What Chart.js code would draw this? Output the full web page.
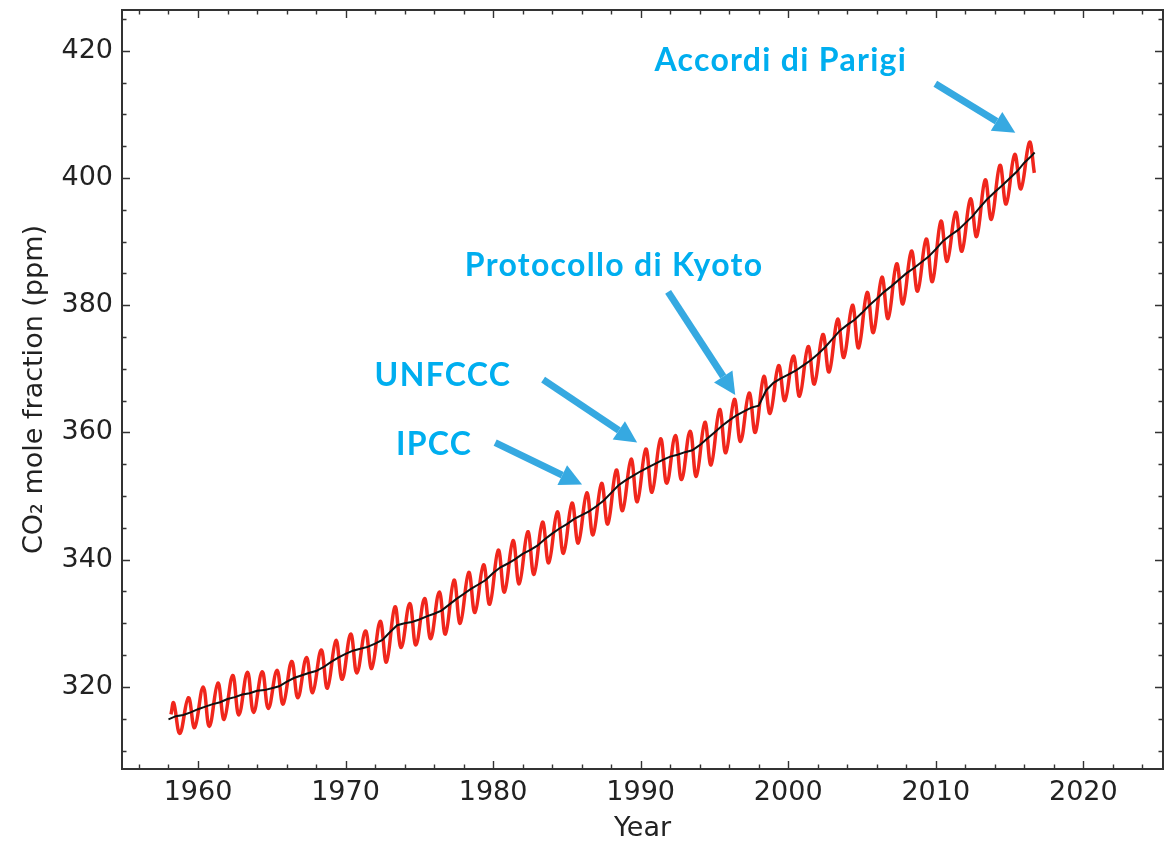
<!DOCTYPE html>
<html>
<head>
<meta charset="utf-8">
<script src="https://cdn.jsdelivr.net/npm/chart.js@4.4.0/dist/chart.umd.min.js"></script>
<style>
  html, body { margin: 0; padding: 0; background: #fff; }
  #wrap { width: 1168px; height: 842px; }
</style>
</head>
<body>
<div id="wrap"><canvas id="chart" width="1168" height="842"></canvas></div>
<script>
// anni con massimo (maggio) e minimo (ottobre) stagionale
const seasonYears = [1958,1959,1960,1961,1962,1963,1964,1965,1966,1967,1968,1969,1970,1971,1972,1973,1974,1975,1976,1977,1978,1979,1980,1981,1982,1983,1984,1985,1986,1987,1988,1989,1990,1991,1992,1993,1994,1995,1996,1997,1998,1999,2000,2001,2002,2003,2004,2005,2006,2007,2008,2009,2010,2011,2012,2013,2014,2015,2016];
const peaks = [317.5,318.3,320.0,320.6,321.8,322.3,322.4,322.6,324.0,324.6,325.8,327.3,328.3,328.8,330.3,332.6,333.1,333.9,334.9,336.8,338.0,339.2,341.5,343.0,344.4,345.9,347.5,348.9,350.5,352.0,354.1,355.8,357.4,359.0,359.5,360.2,361.6,363.6,365.2,366.2,368.8,370.5,372.0,373.5,375.4,377.8,380.0,382.0,384.4,386.5,388.5,390.4,393.2,394.6,396.7,399.7,402.0,403.7,405.6];
const troughs = [312.7,313.6,313.8,314.9,315.6,316.0,316.6,317.3,318.3,319.1,319.8,321.2,322.2,322.9,323.9,326.2,326.6,327.6,328.3,330.0,331.7,333.0,334.9,336.2,337.7,339.5,341.0,342.6,343.9,345.6,347.7,349.1,350.6,352.0,352.6,353.1,354.9,356.8,358.6,360.0,363.0,365.0,365.7,367.6,369.5,371.8,373.3,375.7,377.9,380.2,382.2,383.7,386.9,388.5,390.8,393.5,395.9,398.3,400.8];
const firstValue = 315.7; // marzo 1958

// media destagionalizzata, ogni mezzo anno da 1958.0
const trendStart = 1958.0;
const trend = [314.9,315.4,315.6,316.0,316.5,316.9,317.3,317.6,318.1,318.4,318.8,319.0,319.4,319.5,319.8,320.1,320.8,321.4,321.8,322.2,322.5,323.1,323.9,324.6,325.2,325.7,326.0,326.3,326.8,327.4,328.6,329.7,330.0,330.2,330.6,331.1,331.5,332.0,332.9,333.8,334.6,335.4,336.1,336.8,337.9,338.8,339.4,340.1,340.9,341.5,342.2,343.2,344.1,344.9,345.6,346.4,347.0,347.6,348.4,349.3,350.5,351.7,352.5,353.2,353.9,354.5,355.1,355.7,356.2,356.5,356.9,357.2,358.0,359.0,360.0,361.0,361.9,362.7,363.3,363.9,364.2,366.6,367.8,368.5,369.1,369.7,370.5,371.3,372.3,373.4,374.7,376.0,376.9,377.7,378.8,380.0,381.0,382.1,383.0,384.0,385.0,385.8,386.7,387.6,388.8,390.1,391.0,391.8,392.9,394.0,395.4,396.7,397.8,398.8,399.9,401.0,402.4,403.5,404.0];

const xTickLabels = [1960, 1970, 1980, 1990, 2000, 2010, 2020];
const yTickLabels = [320, 340, 360, 380, 400, 420];

// annotazioni: testo, posizione del testo, coda e punta della freccia (in anni / ppm)
const notes = [
  { text: 'Accordi di Parigi',   at: [1999.5, 418.4], from: [2009.97, 414.8], to: [2015.39, 407.1] },
  { text: 'Protocollo di Kyoto', at: [1988.2, 386.2], from: [1991.86, 382.1], to: [1996.41, 365.9] },
  { text: 'UNFCCC',              at: [1976.6, 368.9], from: [1983.39, 368.3], to: [1989.76, 358.4] },
  { text: 'IPCC',                at: [1976.0, 358.1], from: [1980.14, 358.4], to: [1986.03, 351.8] }
];

// punti della curva rossa
const seasonal = [{ x: 1958.17, y: firstValue }];
seasonYears.forEach((yr, i) => {
  seasonal.push({ x: yr + 0.35, y: peaks[i] });
  const last = i === seasonYears.length - 1;
  seasonal.push({ x: yr + (last ? 0.68 : 0.77), y: troughs[i] });
});
const trendPts = trend.map((v, i) => ({
  x: i === trend.length - 1 ? 2016.7 : trendStart + i * 0.5,
  y: v
}));

const axisColor = '#333';
const labelFont = { family: 'DejaVu Sans', size: 27 };

const frameTicks = {
  id: 'frameTicks',
  afterDatasetsDraw(chart) {
    const { ctx, chartArea: a, scales: { x, y } } = chart;
    ctx.save();
    ctx.strokeStyle = axisColor;
    ctx.lineWidth = 1.4;
    ctx.beginPath();
    for (let v = 1956; v <= 2024; v += 2) {
      const px = Math.round(x.getPixelForValue(v)) + 0.5;
      const len = v % 10 === 0 ? 8 : 4.5;
      ctx.moveTo(px, a.bottom); ctx.lineTo(px, a.bottom - len);
      ctx.moveTo(px, a.top); ctx.lineTo(px, a.top + len);
    }
    for (let v = 310; v <= 425; v += 5) {
      const py = Math.round(y.getPixelForValue(v)) + 0.5;
      const len = v % 20 === 0 ? 8 : 4.5;
      ctx.moveTo(a.left, py); ctx.lineTo(a.left + len, py);
      ctx.moveTo(a.right, py); ctx.lineTo(a.right - len, py);
    }
    ctx.stroke();
    ctx.lineWidth = 2;
    ctx.strokeRect(a.left, a.top, a.right - a.left, a.bottom - a.top);
    ctx.restore();
  }
};

const annotations = {
  id: 'annotations',
  afterDraw(chart) {
    const { ctx, scales: { x, y } } = chart;
    ctx.save();
    for (const n of notes) {
      const x0 = x.getPixelForValue(n.from[0]), y0 = y.getPixelForValue(n.from[1]);
      const x1 = x.getPixelForValue(n.to[0]), y1 = y.getPixelForValue(n.to[1]);
      const ang = Math.atan2(y1 - y0, x1 - x0);
      const head = 22, half = 11;
      const bx = x1 - head * Math.cos(ang), by = y1 - head * Math.sin(ang);
      ctx.strokeStyle = '#36a9e1';
      ctx.fillStyle = '#36a9e1';
      ctx.lineWidth = 7;
      ctx.beginPath();
      ctx.moveTo(x0, y0); ctx.lineTo(bx, by);
      ctx.stroke();
      ctx.beginPath();
      ctx.moveTo(x1, y1);
      ctx.lineTo(bx + half * Math.sin(ang), by - half * Math.cos(ang));
      ctx.lineTo(bx - half * Math.sin(ang), by + half * Math.cos(ang));
      ctx.closePath();
      ctx.fill();

      ctx.fillStyle = '#00aeef';
      ctx.font = 'bold 32px Lato';
      ctx.letterSpacing = '1.3px';
      ctx.textAlign = 'center';
      ctx.textBaseline = 'middle';
      ctx.fillText(n.text, x.getPixelForValue(n.at[0]), y.getPixelForValue(n.at[1]));
    }
    ctx.restore();
  }
};

new Chart(document.getElementById('chart'), {
  type: 'line',
  data: {
    datasets: [
      {
        label: 'trend',
        data: trendPts,
        borderColor: '#111',
        borderWidth: 2,
        pointRadius: 0,
        tension: 0
      },
      {
        label: 'monthly',
        data: seasonal,
        borderColor: '#f0261c',
        borderWidth: 3.5,
        pointRadius: 0,
        tension: 0.4
      }
    ]
  },
  plugins: [frameTicks, annotations],
  options: {
    responsive: false,
    animation: false,
    devicePixelRatio: 1,
    layout: { padding: { top: 10, right: 5, left: 0, bottom: 0 } },
    plugins: { legend: { display: false }, tooltip: { enabled: false } },
    scales: {
      x: {
        type: 'linear',
        min: 1954.85,
        max: 2025.4,
        afterFit: s => { s.height = 73; s.paddingLeft = 0; s.paddingRight = 0; },
        afterBuildTicks: s => { s.ticks = xTickLabels.map(v => ({ value: v })); },
        grid: { display: false, drawTicks: false },
        border: { display: false },
        ticks: {
          padding: 8,
          color: '#222',
          font: labelFont,
          maxRotation: 0,
          autoSkip: false,
          callback: v => String(v)
        },
        title: {
          display: true,
          text: 'Year',
          color: '#222',
          font: { ...labelFont, lineHeight: 1 },
          padding: { top: 0, bottom: 0 }
        }
      },
      y: {
        type: 'linear',
        min: 307.1,
        max: 426.4,
        afterFit: s => { s.width = 122; s.paddingTop = 0; s.paddingBottom = 0; },
        afterBuildTicks: s => { s.ticks = yTickLabels.map(v => ({ value: v })); },
        grid: { display: false, drawTicks: false },
        border: { display: false },
        ticks: {
          padding: 9,
          color: '#222',
          font: labelFont,
          callback: v => String(v)
        },
        title: {
          display: true,
          text: 'CO₂ mole fraction (ppm)',
          color: '#222',
          font: { ...labelFont, lineHeight: 1 },
          padding: { top: 21, bottom: 0 }
        }
      }
    }
  }
});
</script>
</body>
</html>
